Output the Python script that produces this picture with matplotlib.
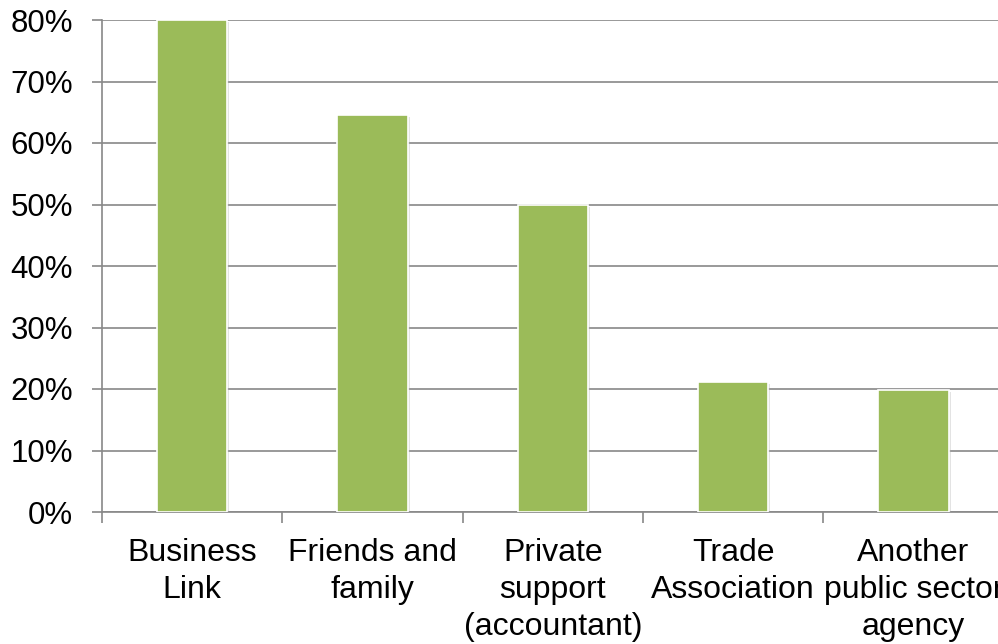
import matplotlib
matplotlib.use("Agg")
import matplotlib.pyplot as plt
import matplotlib.patheffects as pe
from matplotlib.ticker import FuncFormatter, MultipleLocator

categories = ["Business\nLink", "Friends and\nfamily", "Private\nsupport\n(accountant)",
              "Trade\nAssociation", "Another\npublic sector\nagency"]
shares = [80.0, 64.6, 49.9, 21.2, 19.8]

plt.rcParams["font.family"] = ["Liberation Sans", "DejaVu Sans"]

fig = plt.figure(figsize=(9.98, 6.44), dpi=100)
ax = fig.add_axes([102 / 998, 132 / 644, 901.5 / 998, 492 / 644])

x = range(len(categories))
ax.bar(x, shares, width=0.39, color="#9BBB59", edgecolor="white", linewidth=1.2,
       zorder=3,
       path_effects=[pe.SimplePatchShadow(offset=(1.5, -1.5), shadow_rgbFace="#b0b0b0", alpha=0.35),
                     pe.Normal()])

ax.set_xlim(-0.5, len(categories) - 0.5)
ax.set_ylim(0, 80)
ax.yaxis.set_major_locator(MultipleLocator(10))
ax.yaxis.set_major_formatter(FuncFormatter(lambda v, _: f"{v:.0f}%"))
ax.grid(axis="y", color="#888888", linewidth=1.2, zorder=0)
ax.set_axisbelow(True)

ax.set_xticks([i - 0.5 for i in range(len(categories) + 1)], minor=False)
ax.set_xticklabels([])
ax.set_xticks(list(x), minor=True)
ax.set_xticklabels(categories, minor=True, fontsize=23, linespacing=1.3)
ax.tick_params(axis="x", which="major", length=8, color="#888888", width=1.2)
ax.tick_params(axis="x", which="minor", length=0, pad=19)
ax.tick_params(axis="y", length=7, color="#888888", width=1.2, labelsize=22.5, pad=14)

for side in ("top", "right"):
    ax.spines[side].set_visible(False)
for side in ("left", "bottom"):
    ax.spines[side].set_color("#888888")
    ax.spines[side].set_linewidth(1.2)

fig.savefig("out.png", dpi=100)
